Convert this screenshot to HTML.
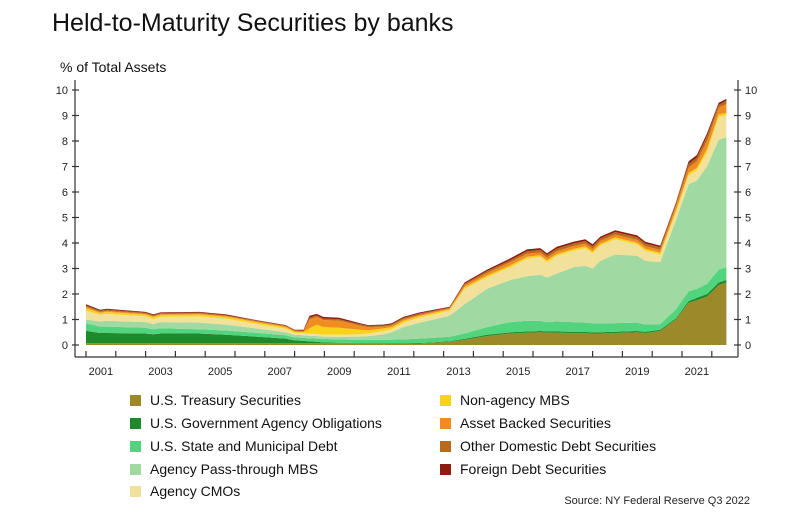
<!DOCTYPE html>
<html><head><meta charset="utf-8"><style>
body{margin:0;background:#fff;}
svg{font-family:"Liberation Sans",Arial,sans-serif;display:block;}
</style></head><body>
<svg id="chart" width="810" height="524" viewBox="0 0 810 524">
<text x="52" y="31" font-size="25" fill="#111">Held-to-Maturity Securities by banks</text>
<text x="60" y="72" font-size="14" fill="#111">% of Total Assets</text>
<g id="areas"></g>
<g id="axes"></g>
<g id="legend"></g>
<text x="750" y="504" font-size="11" fill="#222" text-anchor="end">Source: NY Federal Reserve Q3 2022</text>
</svg>
<script>
const times=[2001.0,2001.47,2001.7,2003.0,2003.26,2003.5,2004.8,2005.7,2006.7,2007.7,2008.0,2008.3,2008.5,2008.74,2008.96,2009.5,2010.2,2010.47,2010.98,2011.26,2011.65,2012.2,2013.2,2013.7,2014.45,2015.24,2015.8,2016.24,2016.47,2016.8,2017.36,2017.75,2018.0,2018.26,2018.76,2019.49,2019.77,2020.27,2020.8,2021.22,2021.5,2021.84,2022.23,2022.49];
const treasury=[.07,.07,.07,.07,.07,.07,.07,.07,.07,.07,.07,.07,.07,.07,.07,.07,.07,.07,.07,.07,.07,.06,.12,.20,.35,.45,.48,.50,.48,.48,.47,.46,.45,.45,.47,.50,.47,.55,1.0,1.65,1.75,1.90,2.35,2.45];
const govAgency=[.49,.40,.40,.38,.35,.38,.38,.33,.26,.18,.11,.09,.07,.06,.03,.02,.01,.01,.01,.01,.01,.02,.03,.04,.05,.05,.05,.05,.05,.05,.05,.05,.05,.05,.05,.05,.05,.05,.05,.07,.10,.10,.10,.10];
const muni=[.29,.25,.25,.23,.20,.21,.17,.17,.15,.13,.12,.12,.12,.12,.14,.13,.12,.12,.12,.13,.14,.17,.17,.21,.30,.40,.42,.40,.37,.39,.38,.37,.35,.35,.34,.33,.28,.22,.35,.38,.35,.40,.50,.50];
const passThrough=[.15,.20,.23,.22,.20,.24,.26,.23,.17,.12,.10,.10,.10,.10,.09,.10,.13,.15,.22,.29,.48,.63,.83,1.15,1.50,1.65,1.75,1.80,1.75,1.88,2.15,2.22,2.15,2.45,2.69,2.62,2.50,2.43,3.50,4.20,4.25,4.60,5.10,5.10];
const cmos=[.35,.26,.27,.22,.20,.20,.24,.23,.18,.14,.08,.08,.08,.08,.07,.08,.09,.10,.13,.12,.18,.20,.20,.60,.45,.50,.68,.70,.60,.70,.65,.70,.60,.60,.60,.45,.40,.30,.30,.35,.40,.55,.90,.85];
const nonAgency=[.10,.08,.08,.08,.08,.08,.08,.08,.07,.06,.04,.04,.21,.37,.30,.28,.18,.13,.10,.08,.07,.06,.05,.07,.07,.08,.08,.07,.07,.07,.07,.07,.07,.07,.07,.07,.07,.07,.10,.10,.10,.15,.10,.10];
const abs=[.05,.04,.04,.03,.03,.03,.03,.03,.03,.03,.03,.04,.35,.30,.28,.27,.16,.12,.07,.07,.06,.05,.04,.08,.10,.12,.12,.11,.11,.11,.11,.11,.11,.11,.11,.11,.11,.11,.15,.20,.25,.30,.25,.35];
const otherDomestic=[.05,.04,.04,.04,.04,.04,.04,.03,.03,.03,.03,.03,.08,.06,.06,.06,.05,.05,.04,.04,.05,.05,.03,.05,.08,.08,.10,.10,.10,.10,.10,.10,.10,.10,.10,.10,.10,.10,.10,.15,.15,.20,.12,.13];
const foreign=[.05,.04,.04,.03,.03,.03,.03,.03,.02,.02,.02,.03,.07,.06,.06,.06,.04,.03,.04,.04,.04,.04,.03,.05,.05,.07,.07,.07,.07,.07,.07,.07,.07,.07,.07,.07,.07,.07,.05,.10,.10,.10,.08,.07];
const seriesNames=["U.S. Treasury Securities","U.S. Government Agency Obligations","U.S. State and Municipal Debt","Agency Pass-through MBS","Agency CMOs","Non-agency MBS","Asset Backed Securities","Other Domestic Debt Securities","Foreign Debt Securities"];
const yTicks=[0,1,2,3,4,5,6,7,8,9,10];
const xTickYears=[2001,2002,2003,2004,2005,2006,2007,2008,2009,2010,2011,2012,2013,2014,2015,2016,2017,2018,2019,2020,2021,2022];
const xLabelYears=[2001,2003,2005,2007,2009,2011,2013,2015,2017,2019,2021];

const series=[treasury,govAgency,muni,passThrough,cmos,nonAgency,abs,otherDomestic,foreign];
const colors=["#9c8a2a","#1f8a2b","#52d47f","#a0d9a2","#f2e19a","#f8d31c","#f08c20","#b96a1c","#8c1c10"];
const slugs=["treasury","gov-agency","muni","pass-through-mbs","agency-cmos","non-agency-mbs","abs","other-domestic","foreign"];
const NS="http://www.w3.org/2000/svg";
const X0=86, XS=29.8, Y0=345, YS=25.5;
function x(t){return X0+(t-2001)*XS;}
function y(v){return Y0-v*YS;}

const areas=document.getElementById('areas');
let base=times.map(()=>0);
series.forEach((s,i)=>{
  const top=base.map((b,j)=>b+s[j]);
  let d="M"+times.map((t,j)=>x(t).toFixed(1)+","+y(top[j]).toFixed(1)).join("L");
  for(let j=times.length-1;j>=0;j--) d+="L"+x(times[j]).toFixed(1)+","+y(base[j]).toFixed(1);
  d+="Z";
  const p=document.createElementNS(NS,'path');
  p.setAttribute('d',d);p.setAttribute('fill',colors[i]);
  
  
  areas.appendChild(p);
  base=top;
});

const axes=document.getElementById('axes');
function line(x1,y1,x2,y2,name){
  const l=document.createElementNS(NS,'line');
  l.setAttribute('x1',x1);l.setAttribute('y1',y1);l.setAttribute('x2',x2);l.setAttribute('y2',y2);
  l.setAttribute('stroke','#333');l.setAttribute('stroke-width','1.2');
  
  
  axes.appendChild(l);
}
function txt(xx,yy,s,anchor,name){
  const t=document.createElementNS(NS,'text');
  t.setAttribute('x',xx);t.setAttribute('y',yy);t.setAttribute('font-size','11');t.setAttribute('fill','#222');
  t.setAttribute('text-anchor',anchor);t.textContent=s;
  
  
  axes.appendChild(t);
}
line(75,80,75,357,'left-axis');
line(738,80,738,357,'right-axis');
line(75,357,738,357,'x-axis');
yTicks.forEach(v=>{
  line(72,y(v),79,y(v),'left-tick');
  line(734,y(v),741,y(v),'right-tick');
  txt(68,y(v)+4,String(v),'end','left-tick-label');
  txt(745,y(v)+4,String(v),'start','right-tick-label');
});
xTickYears.forEach(yr=>line(x(yr),357,x(yr),351,'x-tick'));
xLabelYears.forEach(yr=>txt(x(yr+0.5),375,String(yr),'middle','x-tick-label'));

const legend=document.getElementById('legend');
const pos=[[130,405],[130,428],[130,451],[130,474],[130,496],[440,405],[440,428],[440,451],[440,474]];
series.forEach((s,i)=>{
  const g=document.createElementNS(NS,'g');
  
  
  const r=document.createElementNS(NS,'rect');
  r.setAttribute('x',pos[i][0]);r.setAttribute('y',pos[i][1]-10);r.setAttribute('width',11);r.setAttribute('height',11);
  r.setAttribute('fill',colors[i]);
  
  
  const t=document.createElementNS(NS,'text');
  t.setAttribute('x',pos[i][0]+20);t.setAttribute('y',pos[i][1]);t.setAttribute('font-size','14');t.setAttribute('fill','#111');
  t.textContent=seriesNames[i];
  
  
  g.appendChild(r);g.appendChild(t);legend.appendChild(g);
});
</script>
</body></html>
